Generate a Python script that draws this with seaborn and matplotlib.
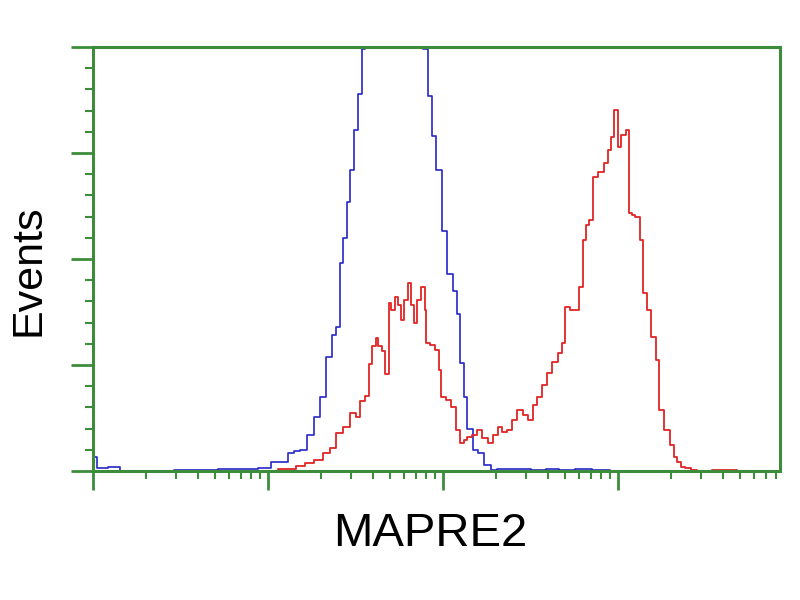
import numpy as np
import pandas as pd
import matplotlib
matplotlib.use("Agg")
import matplotlib.pyplot as plt
import seaborn as sns
from matplotlib.ticker import MultipleLocator, LogLocator, NullFormatter

sns.set_style("white")
plt.rcParams['font.family'] = ['Liberation Sans', 'DejaVu Sans']

# log10 channel positions and event counts
blue_log = [0.00, 0.01, 0.03, 0.14, 0.17, 0.64, 0.78, 0.90, 0.98, 1.05, 1.10, 1.13,
            1.17, 1.20, 1.24, 1.28, 1.31, 1.35, 1.38, 1.40, 1.42, 1.44, 1.46, 1.48,
            1.50, 1.53, 1.54, 1.57, 1.61, 1.65, 1.70, 1.74, 1.78, 1.82, 1.87, 1.90,
            1.93, 1.94, 1.98, 2.01, 2.04, 2.07, 2.09, 2.11, 2.13, 2.15, 2.19, 2.21,
            2.26, 2.29, 2.33, 2.45, 2.55, 2.62, 2.70, 2.80, 2.90, 3.00]
blue_events = [9.0, 6.6, 1.4, 1.9, 0.0, 0.5, 0.9, 0.9, 1.4, 4.2, 4.2, 8.5,
               9.4, 9.9, 17.0, 25.5, 35.0, 54.0, 64.0, 68.0, 98.0, 110.0, 127.0, 142.0,
               161.0, 178.0, 199.0, 215.0, 235.0, 250.0, 258.0, 255.0, 245.0, 230.0, 210.0, 199.0,
               177.0, 158.0, 142.0, 113.0, 93.0, 85.0, 74.0, 51.0, 35.0, 19.8, 9.9, 8.5,
               2.8, 0.5, 0.9, 0.9, 0.5, 1.0, 0.5, 0.9, 0.4, 0.0]

red_log = [1.01, 1.10, 1.14, 1.18, 1.24, 1.29, 1.34, 1.37, 1.41, 1.45, 1.49, 1.51,
           1.54, 1.57, 1.58, 1.61, 1.62, 1.64, 1.66, 1.68, 1.70, 1.71, 1.74, 1.75,
           1.77, 1.79, 1.81, 1.83, 1.84, 1.86, 1.89, 1.90, 1.91, 1.94, 1.97, 1.98,
           2.00, 2.03, 2.06, 2.09, 2.11, 2.13, 2.15, 2.18, 2.21, 2.24, 2.27, 2.30,
           2.33, 2.35, 2.38, 2.41, 2.44, 2.47, 2.50, 2.53, 2.55, 2.58, 2.61, 2.64,
           2.67, 2.69, 2.71, 2.74, 2.77, 2.79, 2.81, 2.83, 2.84, 2.87, 2.90, 2.94,
           2.95, 2.97, 2.99, 3.01, 3.03, 3.06, 3.07, 3.09, 3.11, 3.14, 3.15, 3.18,
           3.20, 3.23, 3.24, 3.28, 3.31, 3.33, 3.35, 3.37, 3.40, 3.43, 3.47, 3.60, 3.75]
red_events = [0.0, 0.9, 0.9, 2.4, 3.8, 5.2, 8.5, 10.8, 17.9, 20.8, 27.4, 25.5,
              33.0, 35.4, 50.5, 59.0, 62.7, 59.0, 56.6, 45.8, 79.2, 75.9, 82.1, 78.3,
              71.2, 80.6, 88.7, 78.3, 69.8, 80.6, 86.7, 75.9, 60.4, 59.4, 57.1, 47.6,
              34.9, 33.5, 30.2, 19.3, 13.2, 14.6, 16.0, 17.0, 19.3, 15.6, 13.2, 17.0,
              20.8, 18.4, 19.3, 24.1, 28.8, 26.4, 24.1, 31.1, 34.9, 40.6, 46.2, 51.4,
              55.7, 60.4, 77.4, 76.0, 76.0, 86.7, 108.9, 116.0, 118.3, 138.6, 141.0, 145.2,
              151.4, 157.5, 170.3, 152.9, 158.5, 160.9, 121.8, 120.8, 119.9, 109.0, 84.0, 76.0,
              63.2, 52.4, 28.8, 19.3, 12.3, 6.6, 4.2, 1.9, 1.4, 0.5, 0.0, 0.5, 0.0]

blue_df = pd.DataFrame({"MAPRE2": np.power(10.0, blue_log), "Events": blue_events})
red_df = pd.DataFrame({"MAPRE2": np.power(10.0, red_log), "Events": red_events})

green = "#3c8c3c"

fig = plt.figure(figsize=(8, 6), dpi=100)
ax = fig.add_axes([0.11625, 0.215, 0.85875, 0.7067])

sns.lineplot(data=blue_df, x="MAPRE2", y="Events", ax=ax, color="#2626c8",
             drawstyle="steps-mid", linewidth=1.2, estimator=None)
sns.lineplot(data=red_df, x="MAPRE2", y="Events", ax=ax, color="#e02424",
             drawstyle="steps-mid", linewidth=1.3, estimator=None)

ax.set_xscale("log")
ax.set_xlim(1, 10 ** 3.926)
ax.set_ylim(0, 200)

ax.yaxis.set_major_locator(MultipleLocator(50))
ax.yaxis.set_minor_locator(MultipleLocator(10))
ax.xaxis.set_major_locator(LogLocator(base=10, numticks=10))
ax.xaxis.set_minor_locator(LogLocator(base=10, subs=np.arange(2, 10), numticks=20))
ax.xaxis.set_major_formatter(NullFormatter())
ax.xaxis.set_minor_formatter(NullFormatter())
ax.yaxis.set_major_formatter(NullFormatter())

for s in ax.spines.values():
    s.set_color(green)
    s.set_linewidth(2.2)

ax.tick_params(axis="both", which="both", direction="out", color=green,
               bottom=True, left=True, top=False, right=False)
ax.tick_params(axis="y", which="major", length=16, width=2)
ax.tick_params(axis="y", which="minor", length=6, width=1.5)
ax.tick_params(axis="x", which="major", length=14, width=2)
ax.tick_params(axis="x", which="minor", length=6, width=1.5)

ax.set_xlabel("")
ax.set_ylabel("")
fig.text(0.5375, 0.11, "MAPRE2", fontsize=34, ha="center", va="center", color="black")
fig.text(0.036, 0.55, "Events", fontsize=31, ha="center", va="center", rotation=90,
         color="black")

fig.savefig("out.png", dpi=100)
